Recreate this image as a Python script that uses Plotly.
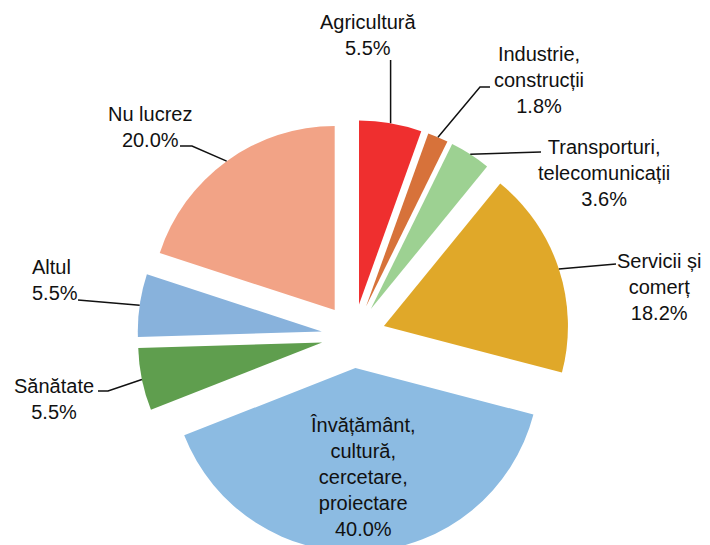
import math
import plotly.graph_objects as go

# ---- data ----
categories = ["Agricultură", "Industrie,<br>construcții", "Transporturi,<br>telecomunicații",
              "Servicii și<br>comerț", "Învățământ,<br>cultură,<br>cercetare,<br>proiectare",
              "Sănătate", "Altul", "Nu lucrez"]
values = [5.5, 1.8, 3.6, 18.2, 40.0, 5.5, 5.5, 20.0]
colors = ["#EF2F2F", "#D7723A", "#9DD192", "#E0A829", "#8CBBE2", "#5F9E4E", "#88B2DC", "#F2A386"]

# ---- layout geometry (pixels) ----
W, H = 710, 560
CX, CY = 353.5, 336.0
PULL = 0.174
R = 184.0
side = 2 * R * (1 + PULL)
dom_x = [(CX - side * 0.6) / W, (CX + side * 0.6) / W]
dom_y = [1 - (CY + side / 2) / H, 1 - (CY - side / 2) / H]

FONT = "Liberation Sans, Arial, sans-serif"
FS = 20
TXT = "#111111"

# label placement: (block center x, block center y, xanchor, leader polyline start points)
label_pos = [
    dict(x=368, y=35, xa="center", lead=[(None, 60)]),
    dict(x=539, y=80, xa="center", lead=[(490, 87), (480, 87)]),
    dict(x=604, y=173, xa="center", lead=[(541, 152)]),
    dict(x=659, y=287, xa="center", lead=[(616, 264)]),
    dict(x=363, y=477, xa="center", lead=None),
    dict(x=54.5, y=399, xa="center", lead=[(98, 391), (108, 391)]),
    dict(x=30, y=280, xa="left", lead=[(78, 300)]),
    dict(x=150, y=127, xa="center", lead=[(180, 146), (192, 146)]),
]

def px(x):
    return x / W

def py(y):
    return 1 - y / H

fig = go.Figure(go.Pie(
    labels=[c.replace("<br>", " ") for c in categories],
    values=values,
    sort=False,
    direction="clockwise",
    rotation=0,
    pull=[PULL] * len(values),
    marker=dict(colors=colors, line=dict(width=0)),
    textinfo="none",
    hoverinfo="label+percent",
    domain=dict(x=dom_x, y=dom_y),
    showlegend=False,
))

total = sum(values)
cum = 0.0
annotations = []
shapes = []
for cat, v, lp in zip(categories, values, label_pos):
    theta = math.radians(360 * (cum + v / 2) / total)
    cum += v
    ax = CX + R * (1 + PULL) * math.sin(theta)
    ay = CY - R * (1 + PULL) * math.cos(theta)
    text = f"{cat}<br>{v:.1f}%"
    annotations.append(dict(
        x=px(lp["x"]), y=py(lp["y"]), xref="paper", yref="paper",
        text=text, showarrow=False, xanchor=lp["xa"], yanchor="middle",
        align="left" if lp["xa"] == "left" else "center",
        font=dict(family=FONT, size=FS, color=TXT),
    ))
    if lp["lead"]:
        pts = []
        for (lx, ly) in lp["lead"]:
            pts.append((ax if lx is None else lx, ly))
        pts.append((ax, ay))
        path = "M " + " L ".join(f"{px(a):.5f},{py(b):.5f}" for a, b in pts)
        shapes.append(dict(type="path", path=path, xref="paper", yref="paper",
                           line=dict(color="#111111", width=1.5)))

fig.update_layout(
    width=W, height=H,
    margin=dict(l=0, r=0, t=0, b=0),
    paper_bgcolor="white", plot_bgcolor="white",
    annotations=annotations,
    shapes=shapes,
)

post = ("var gd=document.getElementById('{plot_id}');"
        "document.documentElement.style.margin='0';document.body.style.margin='0';"
        "document.documentElement.style.overflow='hidden';document.body.style.overflow='hidden';"
        "gd.parentElement.style.height='545px';gd.parentElement.style.overflow='hidden';")
fig.write_html("out.html", config={"displayModeBar": False}, post_script=post)
